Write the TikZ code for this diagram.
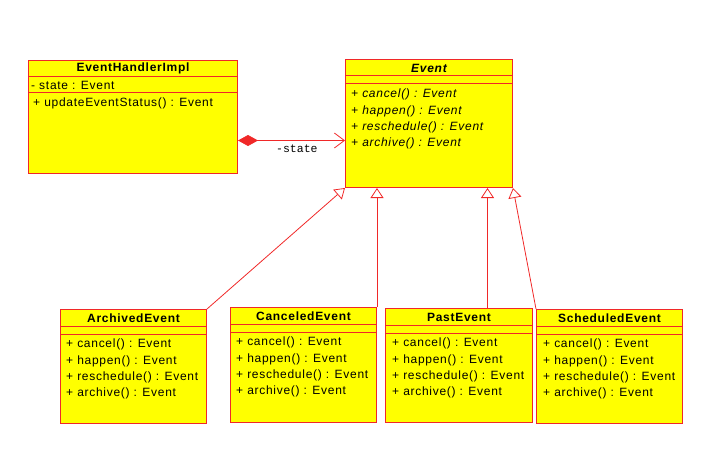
\documentclass[tikz,border=0pt]{standalone}
\usepackage{fontspec}
\setmainfont{Liberation Sans}[LetterSpace=6]
\newfontfamily\umlmono{Liberation Mono}
\usetikzlibrary{arrows.meta}
\definecolor{umlred}{RGB}{240,40,40}
\definecolor{umlyellow}{RGB}{255,255,0}
\newcommand{\umlsize}{\fontsize{12}{16.3}\selectfont}
\tikzset{
  classbox/.style={draw=umlred, fill=umlyellow, line width=1pt, inner sep=0pt, anchor=north west},
  classname/.style={font=\umlsize\bfseries, inner sep=0pt},
  members/.style={align=left, anchor=north west, inner sep=0pt, font=\umlsize},
  sepline/.style={draw=umlred, line width=1pt},
  inherit/.style={draw=umlred, line width=0.8pt, -{Triangle[open, length=10pt, width=13pt]}},
  compose/.style={draw=umlred, line width=0.8pt, {Diamond[length=20pt, width=11pt, fill=umlred]}-{Straight Barb[length=10pt, width=15pt]}}
}
\begin{document}
\begin{tikzpicture}[x=1pt, y=-1pt, font=\umlsize]
\useasboundingbox (0,0) rectangle (717,468);
% handler
\node[classbox, minimum width=209pt, minimum height=113pt] (ehi) at (28,60) {};
\node[classname] (ehi-n) at ([yshift=-8.5pt]ehi.north) {EventHandlerImpl};
\draw[sepline] ([yshift=-17pt]ehi.north west) -- ([yshift=-17pt]ehi.north east);
\draw[sepline] ([yshift=-33pt]ehi.north west) -- ([yshift=-33pt]ehi.north east);
\node[members] (ehi-a) at ([xshift=3pt, yshift=-21pt]ehi.north west) {- state : Event};
\node[members] (ehi-m) at ([xshift=5pt, yshift=-38pt]ehi.north west) {+ updateEventStatus() : Event};
% abstract event
\node[classbox, minimum width=167pt, minimum height=128pt] (ev) at (345,59) {};
\node[classname, font=\umlsize\bfseries\itshape] (ev-n) at ([yshift=-9pt]ev.north) {Event};
\draw[sepline] ([yshift=-17pt]ev.north west) -- ([yshift=-17pt]ev.north east);
\draw[sepline] ([yshift=-25pt]ev.north west) -- ([yshift=-25pt]ev.north east);
\node[members, font=\umlsize\itshape] (ev-m) at ([xshift=6pt, yshift=-30pt]ev.north west) {+ cancel() : Event\\+ happen() : Event\\+ reschedule() : Event\\+ archive() : Event};
% subclasses
\node[classbox, minimum width=146pt, minimum height=114pt] (ae) at (60,309) {};
\node[classname] (ae-n) at ([yshift=-9pt]ae.north) {ArchivedEvent};
\draw[sepline] ([yshift=-17pt]ae.north west) -- ([yshift=-17pt]ae.north east);
\draw[sepline] ([yshift=-25pt]ae.north west) -- ([yshift=-25pt]ae.north east);
\node[members] (ae-m) at ([xshift=6pt, yshift=-30pt]ae.north west) {+ cancel() : Event\\+ happen() : Event\\+ reschedule() : Event\\+ archive() : Event};

\node[classbox, minimum width=146pt, minimum height=115pt] (ce) at (230,307) {};
\node[classname] (ce-n) at ([yshift=-9pt]ce.north) {CanceledEvent};
\draw[sepline] ([yshift=-17pt]ce.north west) -- ([yshift=-17pt]ce.north east);
\draw[sepline] ([yshift=-25pt]ce.north west) -- ([yshift=-25pt]ce.north east);
\node[members] (ce-m) at ([xshift=6pt, yshift=-30pt]ce.north west) {+ cancel() : Event\\+ happen() : Event\\+ reschedule() : Event\\+ archive() : Event};

\node[classbox, minimum width=147pt, minimum height=114pt] (pe) at (385,308) {};
\node[classname] (pe-n) at ([yshift=-9pt]pe.north) {PastEvent};
\draw[sepline] ([yshift=-17pt]pe.north west) -- ([yshift=-17pt]pe.north east);
\draw[sepline] ([yshift=-25pt]pe.north west) -- ([yshift=-25pt]pe.north east);
\node[members] (pe-m) at ([xshift=7pt, yshift=-30pt]pe.north west) {+ cancel() : Event\\+ happen() : Event\\+ reschedule() : Event\\+ archive() : Event};

\node[classbox, minimum width=146pt, minimum height=114pt] (se) at (536,309) {};
\node[classname] (se-n) at ([yshift=-9pt]se.north) {ScheduledEvent};
\draw[sepline] ([yshift=-17pt]se.north west) -- ([yshift=-17pt]se.north east);
\draw[sepline] ([yshift=-25pt]se.north west) -- ([yshift=-25pt]se.north east);
\node[members] (se-m) at ([xshift=7pt, yshift=-30pt]se.north west) {+ cancel() : Event\\+ happen() : Event\\+ reschedule() : Event\\+ archive() : Event};
% connectors
\coordinate (st) at ([yshift=-23.5pt]ehi.east);
\draw[compose] (st) -- (st -| ev.west) node[pos=0.55, below, yshift=-1pt, font=\umlmono\fontsize{11.5}{12}\selectfont] {-state};
\draw[inherit] (ae.north east) -- (ev.south west);
\draw[inherit] (ce.north east) -- (ce.north east |- ev.south);
\coordinate (pt) at ([xshift=28.5pt]pe.north);
\draw[inherit] (pt) -- (pt |- ev.south);
\draw[inherit] (se.north west) -- (ev.south east);
\end{tikzpicture}
\end{document}
